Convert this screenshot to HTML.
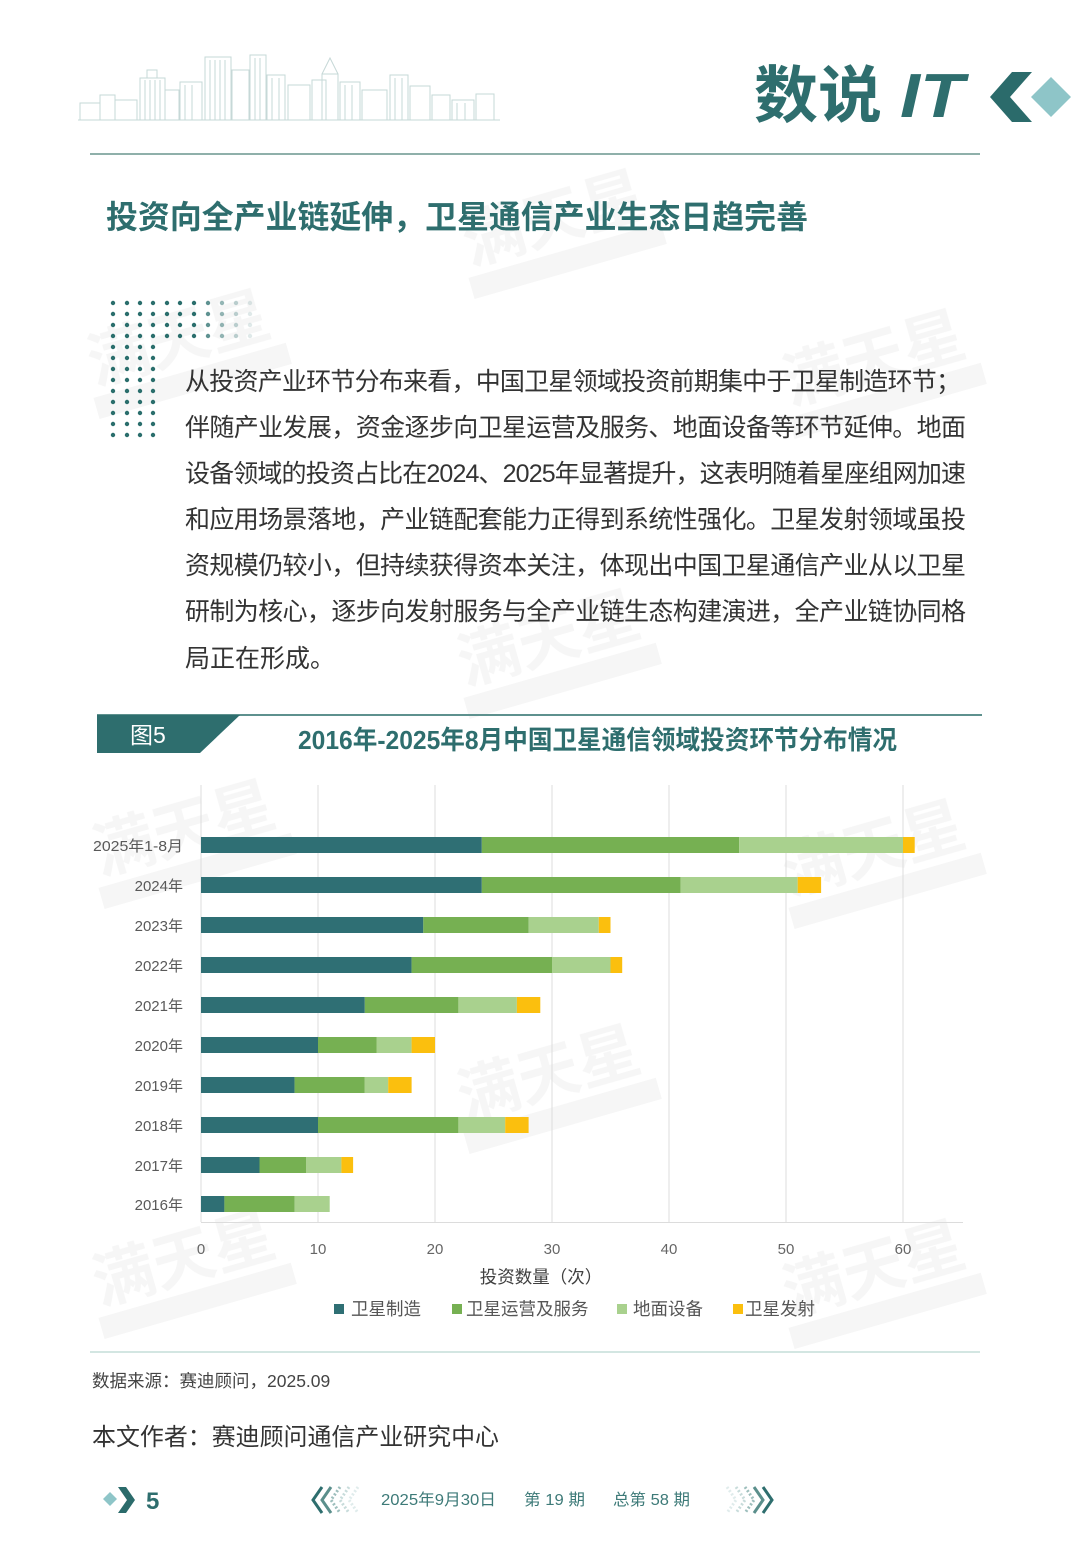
<!DOCTYPE html>
<html>
<head>
<meta charset="utf-8">
<style>
html,body{margin:0;padding:0;background:#fff;}
body{width:1080px;height:1559px;overflow:hidden;}
svg{display:block;}
text{font-family:"Liberation Sans","Noto Sans CJK SC",sans-serif;}
</style>
</head>
<body>
<svg width="1080" height="1559" viewBox="0 0 1080 1559" xmlns="http://www.w3.org/2000/svg">
<rect width="1080" height="1559" fill="#fff"/>

<!-- watermarks -->
<g fill="#000" opacity="0.038" font-weight="bold" font-size="62">
  <g transform="translate(470,265) rotate(-16)"><text x="0" y="0">满天星</text><rect x="-5" y="12" width="200" height="22"/></g>
  <g transform="translate(95,385) rotate(-16)"><text x="0" y="0">满天星</text><rect x="-5" y="12" width="200" height="22"/></g>
  <g transform="translate(790,405) rotate(-16)"><text x="0" y="0">满天星</text><rect x="-5" y="12" width="200" height="22"/></g>
  <g transform="translate(465,685) rotate(-16)"><text x="0" y="0">满天星</text><rect x="-5" y="12" width="200" height="22"/></g>
  <g transform="translate(100,875) rotate(-16)"><text x="0" y="0">满天星</text><rect x="-5" y="12" width="200" height="22"/></g>
  <g transform="translate(790,895) rotate(-16)"><text x="0" y="0">满天星</text><rect x="-5" y="12" width="200" height="22"/></g>
  <g transform="translate(465,1120) rotate(-16)"><text x="0" y="0">满天星</text><rect x="-5" y="12" width="200" height="22"/></g>
  <g transform="translate(100,1305) rotate(-16)"><text x="0" y="0">满天星</text><rect x="-5" y="12" width="200" height="22"/></g>
  <g transform="translate(790,1315) rotate(-16)"><text x="0" y="0">满天星</text><rect x="-5" y="12" width="200" height="22"/></g>
</g>

<!-- skyline -->
<g fill="none" stroke="#c6d8d7" stroke-width="1">
  <rect x="80" y="103" width="20" height="17"/>
  <rect x="100" y="95" width="15" height="25"/>
  <rect x="115" y="100" width="22" height="20"/>
  <rect x="140" y="78" width="25" height="42"/>
  <rect x="147" y="70" width="10" height="8"/>
  <rect x="165" y="90" width="14" height="30"/>
  <rect x="180" y="82" width="22" height="38"/>
  <rect x="205" y="57" width="26" height="63"/>
  <rect x="232" y="70" width="17" height="50"/>
  <rect x="250" y="55" width="16" height="65"/>
  <rect x="267" y="75" width="18" height="45"/>
  <rect x="288" y="85" width="22" height="35"/>
  <rect x="312" y="80" width="14" height="40"/>
  <rect x="322" y="74" width="16" height="46"/>
  <path d="M322,74 L330,58 L338,74"/>
  <rect x="340" y="82" width="20" height="38"/>
  <rect x="362" y="90" width="25" height="30"/>
  <rect x="390" y="75" width="18" height="45"/>
  <rect x="410" y="86" width="20" height="34"/>
  <rect x="432" y="95" width="18" height="25"/>
  <rect x="452" y="100" width="22" height="20"/>
  <rect x="476" y="94" width="18" height="26"/>
  <path d="M210,60 V120 M215,60 V120 M220,60 V120 M225,60 V120 M255,58 V120 M260,58 V120 M145,80 V120 M150,80 V120 M155,80 V120 M160,80 V120 M185,85 V120 M192,85 V120 M345,85 V120 M352,85 V120 M395,78 V120 M402,78 V120 M457,103 V120 M465,103 V120 M272,78 V120 M279,78 V120"/>
  <line x1="78" y1="120" x2="500" y2="120"/>
</g>

<!-- logo -->
<text x="754" y="117" font-size="62" font-weight="bold" fill="#2e6e6e" textLength="128" lengthAdjust="spacingAndGlyphs">数说</text>
<text x="900" y="117" font-size="62" font-weight="bold" font-style="italic" fill="#2e6e6e" textLength="64" lengthAdjust="spacingAndGlyphs">IT</text>
<polygon points="1012,72 1032,72 1010,97 1032,122 1012,122 990,97" fill="#2b6b6b"/>
<polygon points="1051,77 1071,97 1051,117 1031,97" fill="#8ec5c8"/>
<line x1="90" y1="154" x2="980" y2="154" stroke="#8fb0aa" stroke-width="2"/>

<!-- heading -->
<text x="106" y="228" font-size="32" font-weight="bold" fill="#2e6e6e" textLength="702" lengthAdjust="spacingAndGlyphs">投资向全产业链延伸，卫星通信产业生态日趋完善</text>

<!-- dots -->
<g fill="#2a6e6c">
  <g id="r1">
    <circle cx="113" cy="303" r="2.2"/><circle cx="127" cy="303" r="2.2"/><circle cx="140" cy="303" r="2.2"/><circle cx="153" cy="303" r="2.2"/><circle cx="167" cy="303" r="2.2"/><circle cx="180" cy="303" r="2.2"/><circle cx="194" cy="303" r="2.2"/><circle cx="208" cy="303" r="2.2" opacity="0.75"/><circle cx="222" cy="303" r="2.2" opacity="0.5"/><circle cx="236" cy="303" r="2.2" opacity="0.3"/><circle cx="250" cy="303" r="2.2" opacity="0.15"/>
  </g>
  <use href="#r1" y="11"/>
  <use href="#r1" y="22"/>
  <use href="#r1" y="33"/>
  <g id="c1">
    <circle cx="113" cy="347" r="2.2"/><circle cx="127" cy="347" r="2.2"/><circle cx="140" cy="347" r="2.2"/><circle cx="153" cy="347" r="2.2"/>
  </g>
  <use href="#c1" y="11"/>
  <use href="#c1" y="22"/>
  <use href="#c1" y="33"/>
  <use href="#c1" y="44"/>
  <use href="#c1" y="55"/>
  <use href="#c1" y="66"/>
  <use href="#c1" y="77"/>
  <use href="#c1" y="88"/>
</g>

<!-- paragraph -->
<g font-size="25" fill="#333">
  <text x="185" y="390" textLength="776" lengthAdjust="spacing">从投资产业环节分布来看，中国卫星领域投资前期集中于卫星制造环节；</text>
  <text x="185" y="436" textLength="781" lengthAdjust="spacing">伴随产业发展，资金逐步向卫星运营及服务、地面设备等环节延伸。地面</text>
  <text x="185" y="482" textLength="781" lengthAdjust="spacing">设备领域的投资占比在2024、2025年显著提升，这表明随着星座组网加速</text>
  <text x="185" y="528" textLength="781" lengthAdjust="spacing">和应用场景落地，产业链配套能力正得到系统性强化。卫星发射领域虽投</text>
  <text x="185" y="574" textLength="781" lengthAdjust="spacing">资规模仍较小，但持续获得资本关注，体现出中国卫星通信产业从以卫星</text>
  <text x="185" y="620" textLength="781" lengthAdjust="spacing">研制为核心，逐步向发射服务与全产业链生态构建演进，全产业链协同格</text>
  <text x="185" y="667">局正在形成。</text>
</g>

<!-- figure header -->
<line x1="97" y1="715" x2="982" y2="715" stroke="#5e918e" stroke-width="2"/>
<polygon points="97,715 240,715 200,753 97,753" fill="#2e6e6e"/>
<text x="130" y="743" font-size="23" fill="#fff">图5</text>
<text x="298" y="749" font-size="26" font-weight="bold" fill="#2e6e6e" textLength="599" lengthAdjust="spacingAndGlyphs">2016年-2025年8月中国卫星通信领域投资环节分布情况</text>

<!-- gridlines -->
<g stroke="#dcdcdc" stroke-width="1">
  <line x1="201" y1="785" x2="201" y2="1222"/>
  <line x1="318" y1="785" x2="318" y2="1222"/>
  <line x1="435" y1="785" x2="435" y2="1222"/>
  <line x1="552" y1="785" x2="552" y2="1222"/>
  <line x1="669" y1="785" x2="669" y2="1222"/>
  <line x1="786" y1="785" x2="786" y2="1222"/>
  <line x1="903" y1="785" x2="903" y2="1222"/>
  <line x1="201" y1="1222.5" x2="963" y2="1222.5"/>
</g>

<!-- bars -->
<g>
  <rect x="201" y="837" width="280.8" height="16" fill="#2f6f74"/>
  <rect x="481.8" y="837" width="257.4" height="16" fill="#76b052"/>
  <rect x="739.2" y="837" width="163.8" height="16" fill="#a9d18e"/>
  <rect x="903" y="837" width="11.7" height="16" fill="#fbbf0e"/>

  <rect x="201" y="877" width="280.8" height="16" fill="#2f6f74"/>
  <rect x="481.8" y="877" width="198.9" height="16" fill="#76b052"/>
  <rect x="680.7" y="877" width="117" height="16" fill="#a9d18e"/>
  <rect x="797.7" y="877" width="23.4" height="16" fill="#fbbf0e"/>

  <rect x="201" y="917" width="222.3" height="16" fill="#2f6f74"/>
  <rect x="423.3" y="917" width="105.3" height="16" fill="#76b052"/>
  <rect x="528.6" y="917" width="70.2" height="16" fill="#a9d18e"/>
  <rect x="598.8" y="917" width="11.7" height="16" fill="#fbbf0e"/>

  <rect x="201" y="957" width="210.6" height="16" fill="#2f6f74"/>
  <rect x="411.6" y="957" width="140.4" height="16" fill="#76b052"/>
  <rect x="552" y="957" width="58.5" height="16" fill="#a9d18e"/>
  <rect x="610.5" y="957" width="11.7" height="16" fill="#fbbf0e"/>

  <rect x="201" y="997" width="163.8" height="16" fill="#2f6f74"/>
  <rect x="364.8" y="997" width="93.6" height="16" fill="#76b052"/>
  <rect x="458.4" y="997" width="58.5" height="16" fill="#a9d18e"/>
  <rect x="516.9" y="997" width="23.4" height="16" fill="#fbbf0e"/>

  <rect x="201" y="1037" width="117" height="16" fill="#2f6f74"/>
  <rect x="318" y="1037" width="58.5" height="16" fill="#76b052"/>
  <rect x="376.5" y="1037" width="35.1" height="16" fill="#a9d18e"/>
  <rect x="411.6" y="1037" width="23.4" height="16" fill="#fbbf0e"/>

  <rect x="201" y="1077" width="93.6" height="16" fill="#2f6f74"/>
  <rect x="294.6" y="1077" width="70.2" height="16" fill="#76b052"/>
  <rect x="364.8" y="1077" width="23.4" height="16" fill="#a9d18e"/>
  <rect x="388.2" y="1077" width="23.4" height="16" fill="#fbbf0e"/>

  <rect x="201" y="1117" width="117" height="16" fill="#2f6f74"/>
  <rect x="318" y="1117" width="140.4" height="16" fill="#76b052"/>
  <rect x="458.4" y="1117" width="46.8" height="16" fill="#a9d18e"/>
  <rect x="505.2" y="1117" width="23.4" height="16" fill="#fbbf0e"/>

  <rect x="201" y="1157" width="58.5" height="16" fill="#2f6f74"/>
  <rect x="259.5" y="1157" width="46.8" height="16" fill="#76b052"/>
  <rect x="306.3" y="1157" width="35.1" height="16" fill="#a9d18e"/>
  <rect x="341.4" y="1157" width="11.7" height="16" fill="#fbbf0e"/>

  <rect x="201" y="1196" width="23.4" height="16" fill="#2f6f74"/>
  <rect x="224.4" y="1196" width="70.2" height="16" fill="#76b052"/>
  <rect x="294.6" y="1196" width="35.1" height="16" fill="#a9d18e"/>
</g>

<!-- y labels -->
<g font-size="15" fill="#595959" text-anchor="end">
  <text x="183" y="851" textLength="90" lengthAdjust="spacingAndGlyphs">2025年1-8月</text>
  <text x="183" y="891">2024年</text>
  <text x="183" y="931">2023年</text>
  <text x="183" y="971">2022年</text>
  <text x="183" y="1011">2021年</text>
  <text x="183" y="1051">2020年</text>
  <text x="183" y="1091">2019年</text>
  <text x="183" y="1131">2018年</text>
  <text x="183" y="1171">2017年</text>
  <text x="183" y="1210">2016年</text>
</g>

<!-- x tick labels -->
<g font-size="15" fill="#666" text-anchor="middle">
  <text x="201" y="1254">0</text>
  <text x="318" y="1254">10</text>
  <text x="435" y="1254">20</text>
  <text x="552" y="1254">30</text>
  <text x="669" y="1254">40</text>
  <text x="786" y="1254">50</text>
  <text x="903" y="1254">60</text>
</g>
<text x="541" y="1283" font-size="17.5" fill="#404040" text-anchor="middle">投资数量（次）</text>

<!-- legend -->
<g font-size="17.5" fill="#555">
  <rect x="334" y="1304" width="10" height="10" fill="#2f6f74"/>
  <text x="351" y="1315">卫星制造</text>
  <rect x="452" y="1304" width="10" height="10" fill="#76b052"/>
  <text x="466" y="1315">卫星运营及服务</text>
  <rect x="617" y="1304" width="10" height="10" fill="#a9d18e"/>
  <text x="633" y="1315">地面设备</text>
  <rect x="733" y="1304" width="10" height="10" fill="#fbbf0e"/>
  <text x="745" y="1315">卫星发射</text>
</g>

<line x1="90" y1="1352" x2="980" y2="1352" stroke="#d3e6e2" stroke-width="2"/>

<!-- source & author -->
<text x="92" y="1387" font-size="17.5" fill="#444">数据来源：赛迪顾问，2025.09</text>
<text x="92" y="1445" font-size="24" fill="#333" textLength="407" lengthAdjust="spacingAndGlyphs">本文作者：赛迪顾问通信产业研究中心</text>

<!-- footer -->
<polygon points="110,1492 117,1499 110,1506 103,1499" fill="#8ec5c8"/>
<polygon points="118,1487 126,1487 135,1500 126,1513 118,1513 127,1500" fill="#2b6b6b"/>
<text x="146" y="1509" font-size="24" font-weight="bold" fill="#2e6e6e">5</text>

<g fill="none" stroke-width="3">
  <polyline points="322,1487 313,1500 322,1513" stroke="#2e6e6e"/>
  <polyline points="331,1487 322,1500 331,1513" stroke="#5b8f8c"/>
  <polyline points="340,1487 331,1500 340,1513" stroke="#9ebfbd" stroke-dasharray="2 2"/>
  <polyline points="349,1487 340,1500 349,1513" stroke="#c8dcdb" stroke-dasharray="2 2"/>
  <polyline points="358,1487 349,1500 358,1513" stroke="#e0ecec" stroke-dasharray="2 2"/>
  <polyline points="763,1487 772,1500 763,1513" stroke="#2e6e6e"/>
  <polyline points="754,1487 763,1500 754,1513" stroke="#5b8f8c"/>
  <polyline points="745,1487 754,1500 745,1513" stroke="#9ebfbd" stroke-dasharray="2 2"/>
  <polyline points="736,1487 745,1500 736,1513" stroke="#c8dcdb" stroke-dasharray="2 2"/>
  <polyline points="727,1487 736,1500 727,1513" stroke="#e0ecec" stroke-dasharray="2 2"/>
</g>
<g font-size="16" fill="#3d7a78">
  <text x="381" y="1505" textLength="115" lengthAdjust="spacingAndGlyphs">2025年9月30日</text>
  <text x="524" y="1505" textLength="61" lengthAdjust="spacingAndGlyphs">第 19 期</text>
  <text x="613" y="1505" textLength="77" lengthAdjust="spacingAndGlyphs">总第 58 期</text>
</g>
</svg>
</body>
</html>
